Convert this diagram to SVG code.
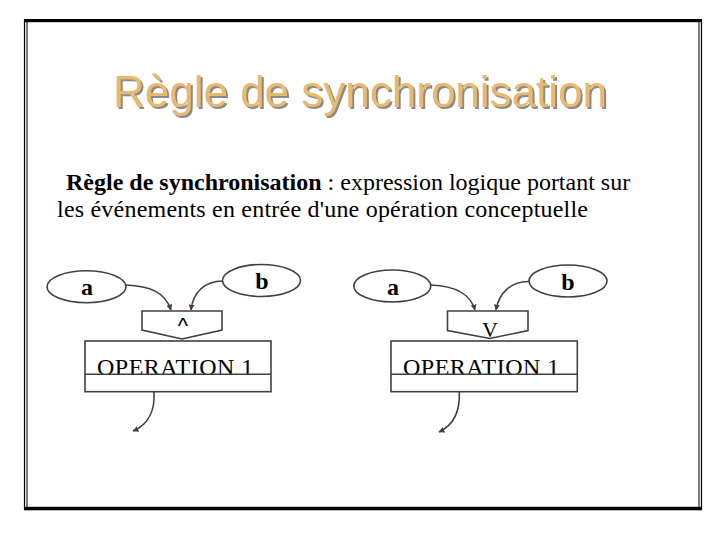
<svg xmlns="http://www.w3.org/2000/svg" width="720" height="540" viewBox="0 0 720 540">
<style>
.frame{fill:none;stroke:#000}
.title{font-family:"Liberation Sans",Arial,sans-serif;font-size:44px;text-anchor:middle}
.body{font-family:"Liberation Serif","Times New Roman",serif;font-size:24px;fill:#000}
.shape{fill:#fff;stroke:#404040;stroke-width:1.6}
.lbl{font-family:"Liberation Serif","Times New Roman",serif;font-size:24px;font-weight:bold;text-anchor:middle;fill:#000}
.op{font-family:"Liberation Serif","Times New Roman",serif;font-size:24px;letter-spacing:0.5px;fill:#000}
.conn{fill:none;stroke:#404040;stroke-width:1.6;marker-end:url(#ah)}
</style>
<defs>
<marker id="ah" viewBox="0 0 10 10" refX="9" refY="5" markerWidth="6" markerHeight="6" orient="auto" markerUnits="userSpaceOnUse">
<path d="M0,0 L10,5 L0,10 z" fill="#404040"/>
</marker>
<filter id="shadow" x="-5%" y="-20%" width="110%" height="140%">
<feDropShadow dx="2" dy="2" stdDeviation="0.3" flood-color="#8a8a8a" flood-opacity="1"/>
</filter>
</defs>
<rect width="720" height="540" fill="#fff"/>
<g id="frame">
<rect x="24.5" y="20" width="677" height="489" class="frame" stroke-width="1.2"/>
<rect x="27" y="20" width="672" height="489" class="frame" stroke-width="1"/>
<rect x="24" y="19" width="678" height="3.2" fill="#000"/>
<rect x="24" y="506.8" width="678" height="3.5" fill="#000"/>
</g>
<g id="title">
<text x="360" y="107" class="title" fill="#E9B96E" filter="url(#shadow)">Règle de synchronisation</text>
</g>
<g id="definition">
<text x="66" y="190" class="body"><tspan font-weight="bold">Règle de synchronisation</tspan> : expression logique portant sur</text>
<text x="57" y="217" class="body" textLength="531" lengthAdjust="spacing">les événements en entrée d'une opération conceptuelle</text>
</g>
<g id="connectors">
<path class="conn" d="M126,285 C150,286 165,292 171,310"/>
<path class="conn" d="M222.7,281 C205,281 193,292 191,310"/>
<path class="conn" d="M154,392 C155,408 150,424 133,431"/>
<path class="conn" d="M431,285 C455,286 470,293 475,310"/>
<path class="conn" d="M529.3,281.5 C512,281 499,292 496,310"/>
<path class="conn" d="M459.3,392 C460,408 456,424 439,432"/>
</g>
<g id="left-a">
<ellipse cx="86.5" cy="286.7" rx="39.5" ry="16" class="shape"/>
<text x="87" y="295" class="lbl">a</text>
</g>
<g id="left-b">
<ellipse cx="261.5" cy="280.5" rx="39" ry="16" class="shape"/>
<text x="262" y="289" class="lbl">b</text>
</g>
<g id="left-and">
<path d="M142,311 H222 V330 L182,339 L142,330 Z" class="shape"/>
<text x="183" y="333" font-family="Liberation Sans,Arial,sans-serif" font-size="22" text-anchor="middle" fill="#000">^</text>
</g>
<g id="left-op">
<rect x="85" y="341" width="186" height="50.7" class="shape"/>
<text x="97" y="374.5" class="op">OPERATION 1</text>
<line x1="85" y1="374.3" x2="271" y2="374.3" stroke="#404040" stroke-width="1.6"/>
</g>
<g id="right-a">
<ellipse cx="392.3" cy="286" rx="38.5" ry="16" class="shape"/>
<text x="393" y="295" class="lbl">a</text>
</g>
<g id="right-b">
<ellipse cx="568" cy="281" rx="39" ry="16" class="shape"/>
<text x="568" y="290" class="lbl">b</text>
</g>
<g id="right-or">
<path d="M447.5,311 H528 V330.5 L490,338.5 L447.5,330.5 Z" class="shape"/>
<text x="490" y="337" font-family="Liberation Serif,Times New Roman,serif" font-size="22" text-anchor="middle" fill="#000">V</text>
</g>
<g id="right-op">
<rect x="391" y="341" width="186.3" height="50.7" class="shape"/>
<text x="403" y="374.5" class="op">OPERATION 1</text>
<line x1="391" y1="374.3" x2="577.3" y2="374.3" stroke="#404040" stroke-width="1.6"/>
</g>
</svg>
